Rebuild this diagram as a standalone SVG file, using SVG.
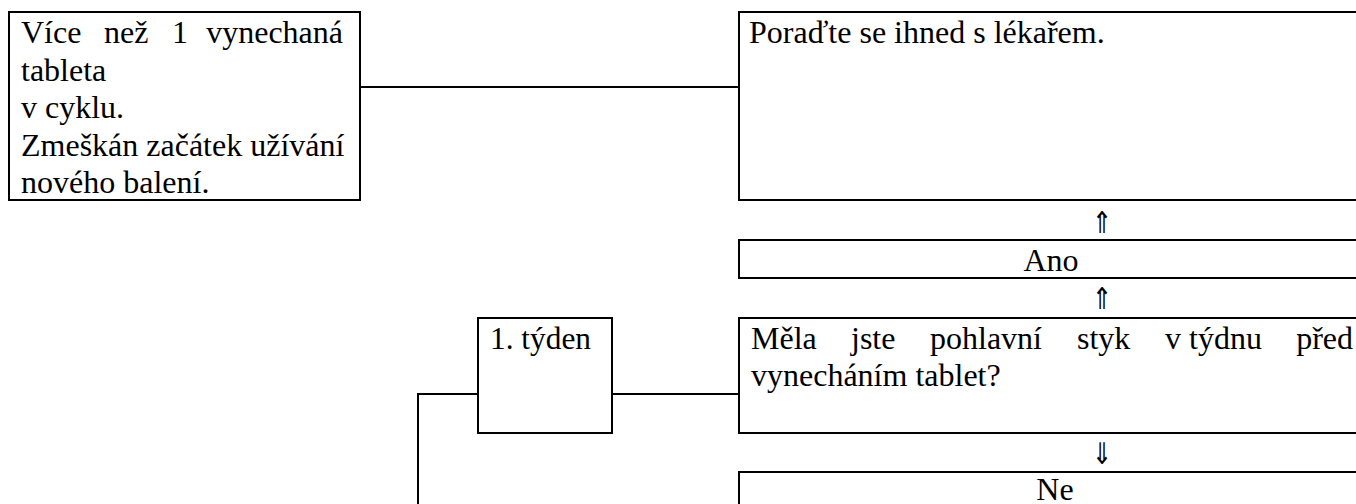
<svg xmlns="http://www.w3.org/2000/svg" width="1356" height="504" viewBox="0 0 1356 504">
<style>
.box{fill:#fff;stroke:#000;stroke-width:2}
.t{font-family:'Liberation Serif','Times New Roman','DejaVu Serif',serif;font-size:32px;fill:#000}
.c{text-anchor:middle}
.arr{font-family:'DejaVu Sans',sans-serif;font-size:30px;fill:#000;text-anchor:middle}
.ln{fill:none;stroke:#000;stroke-width:2}
</style>
<rect width="1356" height="504" fill="#fff"/>
<g id="connectors">
<line class="ln" x1="360" y1="87" x2="739" y2="87"/>
<line class="ln" x1="612" y1="394" x2="739" y2="394"/>
<polyline class="ln" points="478,394 418,394 418,506"/>
</g>
<g id="missed">
<rect class="box" x="9" y="12" width="351" height="188"/>
<text class="t"><tspan x="21" y="43">Více</tspan><tspan x="104" y="43">než</tspan><tspan x="172" y="43">1</tspan><tspan x="343" y="43" text-anchor="end">vynechaná</tspan><tspan x="21" y="80.5">tableta</tspan><tspan x="21" y="118">v cyklu.</tspan><tspan x="21" y="155.5">Zmeškán začátek užívání</tspan><tspan x="21" y="193">nového balení.</tspan></text>
</g>
<g id="doctor">
<rect class="box" x="739" y="12" width="623" height="188"/>
<text class="t" x="749" y="43">Poraďte se ihned s lékařem.</text>
</g>
<g id="arrow1"><text class="arr" transform="translate(1102 233) scale(0.8 1)">⇑</text></g>
<g id="ano">
<rect class="box" x="739" y="240" width="623" height="38"/>
<text class="t c" x="1051" y="271">Ano</text>
</g>
<g id="arrow2"><text class="arr" transform="translate(1102 309) scale(0.8 1)">⇑</text></g>
<g id="week1">
<rect class="box" x="478" y="318" width="134" height="115"/>
<text class="t" x="490" y="349" textLength="101" lengthAdjust="spacingAndGlyphs">1. týden</text>
</g>
<g id="question">
<rect class="box" x="739" y="318" width="623" height="115"/>
<text class="t"><tspan x="751" y="349">Měla</tspan><tspan x="851" y="349">jste</tspan><tspan x="930" y="349">pohlavní</tspan><tspan x="1077" y="349">styk</tspan><tspan x="1165" y="349">v týdnu</tspan><tspan x="1353" y="349" text-anchor="end">před</tspan><tspan x="751" y="386">vynecháním tablet?</tspan></text>
</g>
<g id="arrow3"><text class="arr" transform="translate(1102 464) scale(0.8 1)">⇓</text></g>
<g id="ne">
<rect class="box" x="739" y="472" width="623" height="40"/>
<text class="t c" x="1055" y="500">Ne</text>
</g>
</svg>
